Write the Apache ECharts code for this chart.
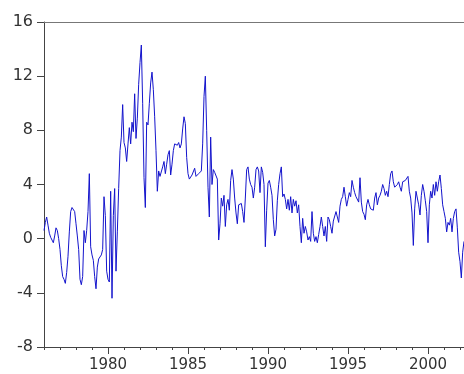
<!DOCTYPE html>
<html>
<head>
<meta charset="utf-8">
<script src="https://cdn.jsdelivr.net/npm/echarts@6/dist/echarts.min.js"></script>
<style>html,body{margin:0;padding:0;background:#fff}#c{width:464px;height:374px}</style>
</head>
<body>
<div id="c"></div>
<script>
// Monthly values, Jan 1976 .. Apr 2002
var startYear = 1976;
var y1976 = [0.6, 1.2, 1.6, 1.0, 0.4, 0.1, -0.1, -0.3, 0.2, 0.8, 0.6, 0.0];
var y1977 = [-0.8, -2.0, -2.8, -3.0, -3.3, -2.5, -1.3, 0.5, 2.0, 2.3, 2.3, 2.0];
var y1978 = [1.1, 0.2, -0.8, -3.0, -3.4, -2.8, 0.6, -0.3, 0.6, 2.0, 4.8, -0.6];
var y1979 = [-1.2, -1.6, -2.8, -3.7, -2.1, -1.5, -1.5, -1.2, -0.8, 3.1, 1.7, -2.4];
var y1980 = [-3.0, -3.2, 3.5, -4.4, 1.7, 3.7, -2.4, 0.5, 3.7, 6.5, 7.5, 9.9];
var y1981 = [7.1, 6.7, 5.7, 7.0, 8.2, 7.0, 8.6, 7.9, 10.7, 7.4, 8.9, 11.4];
var y1982 = [13.0, 14.3, 10.0, 4.5, 2.3, 8.6, 8.4, 10.0, 11.5, 12.3, 11.0, 9.0];
var y1983 = [6.5, 3.5, 5.0, 4.6, 4.5, 5.3, 5.7, 4.8, 5.5, 6.2, 6.5, 4.7];
var y1984 = [5.5, 6.5, 7.0, 7.1, 6.9, 7.1, 6.7, 7.0, 8.1, 9.0, 8.5, 6.0];
var y1985 = [4.8, 4.4, 4.5, 4.7, 4.6, 5.2, 4.6, 4.6, 4.8, 4.8, 5.0, 7.0];
var y1986 = [10.5, 12.0, 8.0, 3.8, 1.6, 7.5, 4.0, 5.1, 4.9, 5.0, 4.4, -0.1];
var y1987 = [1.1, 3.0, 2.4, 3.2, 0.9, 2.5, 2.9, 2.1, 4.3, 5.1, 4.4, 3.0];
var y1988 = [1.9, 1.1, 2.5, 2.4, 2.6, 2.0, 1.2, 3.0, 5.1, 5.3, 4.4, 4.0];
var y1989 = [3.8, 3.0, 3.8, 5.1, 5.3, 5.0, 3.4, 5.3, 4.9, 4.0, -0.6, 2.1];
var y1990 = [4.1, 4.3, 3.8, 3.2, 1.4, 0.2, 0.7, 2.8, 4.0, 4.8, 5.3, 3.1];
var y1991 = [3.3, 2.9, 2.2, 2.9, 2.1, 3.1, 1.9, 2.9, 2.4, 2.8, 1.9, 2.5];
var y1992 = [0.9, -0.3, 1.5, 0.4, 0.9, 0.5, -0.1, 0.15, -0.2, 2.0, 0.4, -0.2];
var y1993 = [0.15, -0.3, 0.3, 0.9, 1.6, 0.9, 0.2, 0.9, -0.2, 1.6, 1.4, 0.9];
var y1994 = [0.4, 1.3, 1.4, 2.0, 1.6, 1.2, 2.4, 2.9, 3.1, 3.8, 3.1, 2.4];
var y1995 = [2.9, 3.4, 3.1, 4.3, 3.8, 3.4, 3.1, 3.0, 2.7, 4.5, 2.7, 2.0];
var y1996 = [1.8, 1.4, 2.5, 2.9, 2.5, 2.2, 2.2, 2.1, 3.0, 3.4, 2.5, 3.0];
var y1997 = [3.2, 3.5, 4.0, 3.7, 3.2, 3.5, 3.1, 4.0, 4.8, 5.0, 4.2, 3.8];
var y1998 = [3.7, 4.0, 4.2, 3.8, 3.5, 4.2, 4.2, 4.3, 4.3, 4.6, 3.5, 3.0];
var y1999 = [1.9, -0.5, 2.2, 3.5, 3.0, 2.5, 1.75, 3.2, 4.0, 3.5, 2.8, 2.0];
var y2000 = [-0.3, 2.5, 3.5, 3.0, 4.0, 3.2, 4.2, 3.5, 4.2, 4.7, 3.7, 2.5];
var y2001 = [2.0, 1.5, 0.5, 1.2, 1.0, 1.5, 0.5, 1.5, 2.0, 2.2, 0.8, -1.0];
var y2002 = [-1.7, -2.9, -1.0, -0.2];

var xLabelYears = [1980, 1985, 1990, 1995, 2000];
var xMin = 1976, xMax = 2002.25;
var yMin = -8, yMax = 16, yStep = 4;

var years = [y1976,y1977,y1978,y1979,y1980,y1981,y1982,y1983,y1984,y1985,y1986,y1987,y1988,
             y1989,y1990,y1991,y1992,y1993,y1994,y1995,y1996,y1997,y1998,y1999,y2000,y2001,y2002];
var seriesData = [];
years.forEach(function (arr, yi) {
  arr.forEach(function (v, m) { seriesData.push([startYear + yi + m / 12, v]); });
});

var font = 'DejaVu Sans';
var chart = echarts.init(document.getElementById('c'), null, {renderer: 'canvas'});
chart.setOption({
  animation: false,
  backgroundColor: '#ffffff',
  grid: {left: 44, right: 0, top: 22, bottom: 27},
  xAxis: [
    {
      type: 'value', min: xMin, max: xMax, interval: 1, position: 'bottom',
      axisLine: {show: true, onZero: false, lineStyle: {color: '#444', width: 1}},
      axisTick: {show: true, length: 3, lineStyle: {color: '#444'}},
      axisLabel: {show: false},
      splitLine: {show: false}
    },
    {
      type: 'value', min: xMin, max: xMax, position: 'bottom', offset: 0,
      axisLine: {show: false, onZero: false},
      axisTick: {show: true, length: 7, customValues: xLabelYears, lineStyle: {color: '#444'}},
      axisLabel: {show: true, customValues: xLabelYears, margin: 11, color: '#333',
                  fontFamily: font, fontSize: 15, formatter: function (v) { return String(v); }},
      splitLine: {show: false}
    },
    {
      type: 'value', min: xMin, max: xMax, position: 'top',
      axisLine: {show: true, onZero: false, lineStyle: {color: '#777', width: 1}},
      axisTick: {show: false}, axisLabel: {show: false}, splitLine: {show: false}
    }
  ],
  yAxis: {
    type: 'value', min: yMin, max: yMax, interval: yStep, position: 'left',
    axisLine: {show: true, onZero: false, lineStyle: {color: '#444', width: 1}},
    axisTick: {show: true, length: 7, lineStyle: {color: '#444'}},
    axisLabel: {margin: 11, color: '#333', fontFamily: font, fontSize: 16},
    splitLine: {show: false}
  },
  series: [{
    type: 'line', xAxisIndex: 0, data: seriesData, showSymbol: false, symbol: 'none',
    lineStyle: {color: '#1414cc', width: 1}, clip: true
  }]
});
</script>
</body>
</html>
